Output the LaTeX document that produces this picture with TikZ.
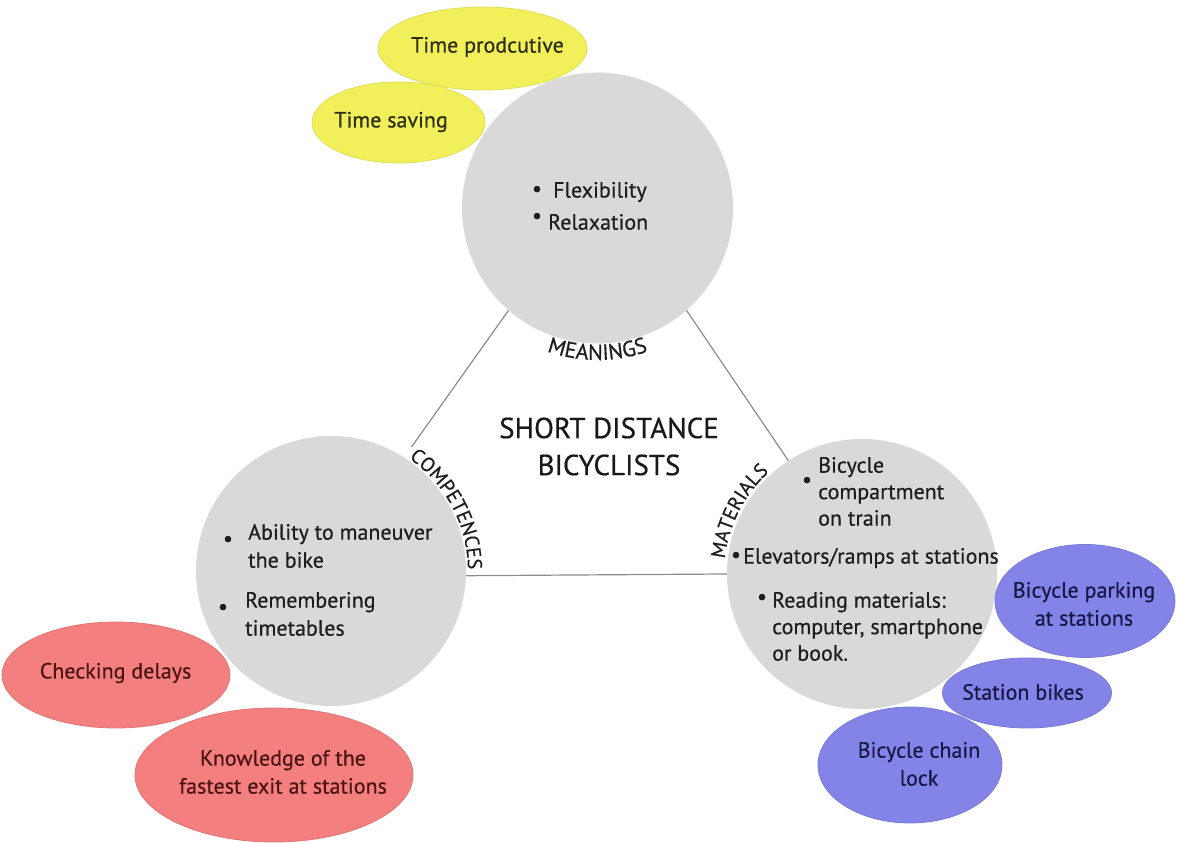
\documentclass[tikz,border=0pt]{standalone}
\usepackage{fontspec}
\setmainfont{PT Sans}[FakeBold=0.5]
\usetikzlibrary{shapes.geometric,decorations.text,calc}
\definecolor{cgray}{HTML}{D9D9D9}
\definecolor{cyel}{HTML}{F2F05A}
\definecolor{cred}{HTML}{F37F7F}
\definecolor{cblue}{HTML}{8483E8}
\definecolor{tgray}{HTML}{1E1E1E}
\definecolor{tyel}{HTML}{2E2E14}
\definecolor{tred}{HTML}{4E1414}
\definecolor{tblue}{HTML}{181846}
\definecolor{cline}{HTML}{8C8C8C}
\newcommand\bodyfont{\fontsize{22}{28}\selectfont}
\newcommand\rightfont{\fontsize{22}{26.5}\selectfont}
\newcommand\titlefont{\fontsize{29}{37}\selectfont}
\newcommand\lblfont{\fontsize{20}{24}\selectfont}
\newcommand\toplblfont{\fontsize{22}{26}\selectfont}
\begin{document}
\begin{tikzpicture}[x=1pt,y=1pt,
  circ/.style={circle, fill=cgray, inner sep=0pt, minimum size=#1},
  oval/.style={ellipse, inner sep=0pt},
  yel/.style={oval, fill=cyel, draw=cyel!92!black, line width=0.8pt},
  red/.style={oval, fill=cred, draw=cred!92!black, line width=0.8pt},
  blu/.style={oval, fill=cblue, draw=cblue!92!black, line width=0.8pt},
  otext/.style={font=\bodyfont, align=center, inner sep=0pt},
  txt/.style={font=\bodyfont, text=tgray, align=left, inner sep=0pt, anchor=west},
  rtxt/.style={txt, font=\rightfont},
  bul/.style={font=\bodyfont, text=tgray, inner sep=0pt},
  link/.style={draw=cline, line width=1.2pt},
  curved/.style={decorate, decoration={text along path, text={#1}, text align=center, text color=tgray}}
]
\useasboundingbox (0,0) rectangle (1178,843);

% central circles
\node[circ=271pt] (M) at (597.5,635) {};
\node[circ=270pt] (C) at (331,272) {};
\node[circ=270pt] (T) at (862,269) {};

% triangle connectors
\coordinate (cl) at ($(C)+(57:148)$);
\draw[link] (M.229) -- (cl);
\draw[link] (M.311) -- (T.123);
\draw[link] (C.358) -- (T.180.5);

% curved labels
\path[curved={|\toplblfont|MEANINGS}] ($(M)+(235:152)$) arc[start angle=235, end angle=305, radius=152];
\path[curved={|\lblfont|COMPETENCES}] ($(C)+(63:137)$) arc[start angle=63, end angle=-7, radius=137];
\path[curved={|\lblfont|MATERIALS}] ($(T)+(188:138)$) arc[start angle=188, end angle=118, radius=138];

% title
\node[font=\titlefont, align=center, text=black!90, inner sep=0pt] (title) at (609,396.5) {SHORT DISTANCE\\BICYCLISTS};

% meanings items
\node[bul] (mb1) at (537,652) {\textbullet};
\node[txt] (mt1) at (553,651) {Flexibility};
\node[bul] (mb2) at (537,625) {\textbullet};
\node[txt] (mt2) at (548,621) {Relaxation};

% competences items
\node[bul] (cb1) at (228,302) {\textbullet};
\node[txt] (ct1) at (248,297) {Ability to maneuver\\the bike};
\node[bul] (cb2) at (223,234) {\textbullet};
\node[txt] (ct2) at (245,229) {Remembering\\timetables};

% materials items
\node[bul] (tb1) at (807,361) {\textbullet};
\node[rtxt] (tt1) at (818,351.5) {Bicycle\\compartment\\on train};
\node[bul] (tb2) at (736,286) {\textbullet};
\node[rtxt] (tt2) at (743,285) {Elevators/ramps at stations};
\node[bul] (tb3) at (762,244) {\textbullet};
\node[rtxt] (tt3) at (772,216.5) {Reading materials:\\computer, smartphone\\or book.};

% yellow ellipses
\node[yel, minimum width=209pt, minimum height=83pt] (yp) at (482.5,794.5) {};
\node[yel, minimum width=173pt, minimum height=81pt] (ys) at (398.5,720.5) {};
\node[otext, text=tyel] (ypt) at (487.5,796) {Time prodcutive};
\node[otext, text=tyel] (yst) at (391,721) {Time saving};

% red ellipses
\node[red, minimum width=228pt, minimum height=106pt] (rc) at (116,168) {};
\node[red, minimum width=278pt, minimum height=134pt] (rk) at (274,68) {};
\node[otext, text=tred] (rct) at (115.5,170) {Checking delays};
\node[otext, text=tred] (rkt) at (283,71) {Knowledge of the\\fastest exit at stations};

% blue ellipses
\node[blu, minimum width=180pt, minimum height=113pt] (bp) at (1085,242) {};
\node[blu, minimum width=169pt, minimum height=70pt] (bs) at (1027,150) {};
\node[blu, minimum width=184pt, minimum height=116pt] (bc) at (910,78) {};
\node[otext, text=tblue] (bpt) at (1084,239) {Bicycle parking\\at stations};
\node[otext, text=tblue] (bst) at (1023,151) {Station bikes};
\node[otext, text=tblue] (bct) at (919,79) {Bicycle chain\\lock};
\end{tikzpicture}
\end{document}
